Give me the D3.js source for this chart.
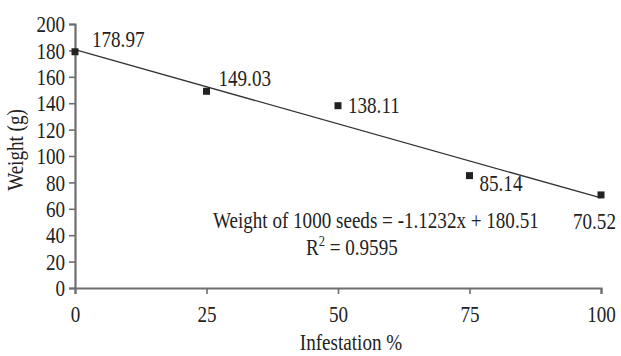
<!DOCTYPE html>
<html>
<head>
<meta charset="utf-8">
<script src="https://cdn.jsdelivr.net/npm/d3@7"></script>
<style>
  body { margin: 0; background: #fff; }
  text { font-family: "Liberation Serif", "DejaVu Serif", serif; fill: #222; }
</style>
</head>
<body>
<div id="chart"></div>
<script>
const infestation = [0, 25, 50, 75, 100]
const weights = [178.97, 149.03, 138.11, 85.14, 70.52]
const xTicks = [0, 25, 50, 75, 100]
const yTicks = [0, 20, 40, 60, 80, 100, 120, 140, 160, 180, 200]
const slope = -1.1232
const intercept = 180.51
const equation = "Weight of 1000 seeds = -1.1232x + 180.51"
const r2 = "0.9595"

let width = 621
let height = 356
let fs = 23        // font size
let sx = 0.83      // the original type is narrow, squeeze it sideways

let svg = d3.select("#chart")
  .append("svg")
  .attr("width", width)
  .attr("height", height)

let x = d3.scaleLinear().domain([0, 100]).range([75, 601])
let y = d3.scaleLinear().domain([0, 200]).range([288, 24])

// put a text at (px, py), squeezed
function place(sel, px, py, extra) {
  sel.attr("transform", "translate(" + px + "," + py + ")" + (extra || "") + " scale(" + sx + ",1)")
    .attr("font-size", fs)
  return sel
}

let axisColour = "#6e6e6e"

let gx = svg.append("g")
  .attr("transform", "translate(0,288)")
  .call(d3.axisBottom(x).tickValues(xTicks).tickSize(6))
gx.selectAll("text")
  .attr("y", 34).attr("dy", null)
  .attr("transform", "scale(" + sx + ",1)")

let gy = svg.append("g")
  .attr("transform", "translate(75,0)")
  .call(d3.axisLeft(y).tickValues(yTicks).tickSize(6))
gy.selectAll("text")
  .attr("x", -10 / sx)
  .attr("dy", "0.33em")
  .attr("transform", "scale(" + sx + ",1)")

svg.selectAll(".tick text")
  .attr("font-size", fs)
  .attr("fill", "#222")
  .style("font-family", "Liberation Serif")
svg.selectAll(".domain, .tick line")
  .attr("stroke", axisColour)
  .attr("stroke-width", 1.6)
svg.selectAll(".domain").attr("stroke-width", 2.2)

// trend line
svg.append("line")
  .attr("x1", x(0)).attr("y1", y(intercept))
  .attr("x2", x(100)).attr("y2", y(intercept + slope * 100))
  .attr("stroke", "#333")
  .attr("stroke-width", 1.3)

// points
svg.selectAll("rect.pt")
  .data(infestation)
  .enter()
  .append("rect")
  .attr("class", "pt")
  .attr("x", d => x(d) - 3.5)
  .attr("y", (d, i) => y(weights[i]) - 3.5)
  .attr("width", 7)
  .attr("height", 7)
  .attr("fill", "#222")

// value labels, offsets relative to each point
let offsets = [[17, -5], [12, -5], [10, 7], [10, 15], [-28, 34]]
svg.selectAll("text.val")
  .data(weights)
  .enter()
  .append("text")
  .attr("class", "val")
  .each(function(d, i) {
    place(d3.select(this), x(infestation[i]) + offsets[i][0], y(d) + offsets[i][1])
  })
  .text(d => d.toFixed(2))

place(svg.append("text"), 213, 228).text(equation)

let r = place(svg.append("text"), 306, 255)
r.append("tspan").text("R")
r.append("tspan").attr("font-size", 15).attr("dy", -9).text("2")
r.append("tspan").attr("dy", 9).text(" = " + r2)

place(svg.append("text"), 351, 350)
  .attr("text-anchor", "middle")
  .text("Infestation %")

place(svg.append("text"), 23, 150, " rotate(-90)")
  .attr("text-anchor", "middle")
  .text("Weight (g)")
</script>
</body>
</html>
